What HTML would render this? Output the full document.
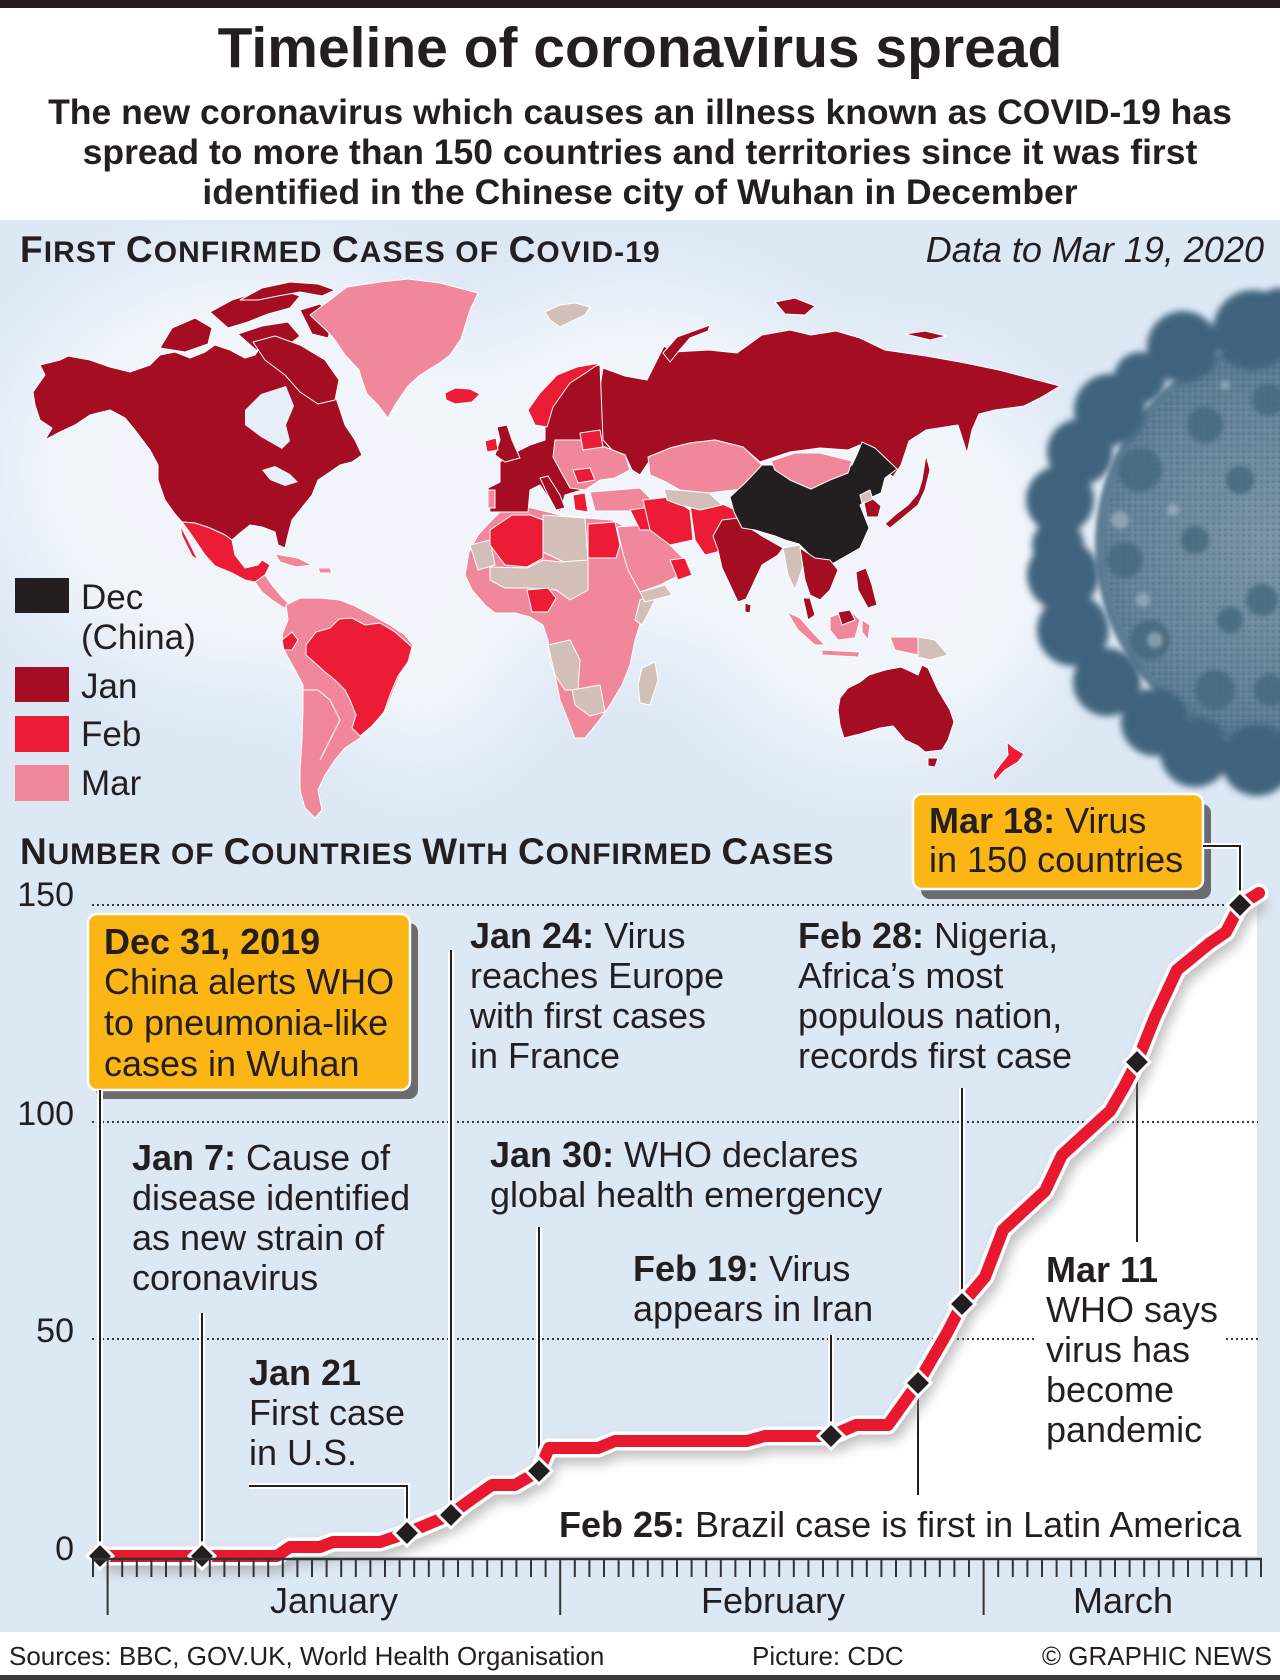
<!DOCTYPE html>
<html><head><meta charset="utf-8"><style>
html,body{margin:0;padding:0;background:#fff}
svg{display:block}
text{font-family:"Liberation Sans",Arial,sans-serif;fill:#231f20}
</style></head><body>
<svg width="1280" height="1680" viewBox="0 0 1280 1680" xmlns="http://www.w3.org/2000/svg">
<defs>
<filter id="blur40" x="-50%" y="-50%" width="200%" height="200%"><feGaussianBlur stdDeviation="40"/></filter>
<filter id="blur3" x="-30%" y="-30%" width="160%" height="160%"><feGaussianBlur stdDeviation="3.5"/></filter>
<filter id="blur2" x="-20%" y="-20%" width="140%" height="140%"><feGaussianBlur stdDeviation="2"/></filter>
<filter id="blur6" x="-20%" y="-20%" width="140%" height="140%"><feGaussianBlur stdDeviation="6"/></filter>
<radialGradient id="vbody" cx="0.42" cy="0.5" r="0.6">
<stop offset="0" stop-color="#7a95a8"/><stop offset="0.55" stop-color="#66849a"/><stop offset="1" stop-color="#4a6b83"/>
</radialGradient>
<pattern id="speck" width="6" height="6" patternUnits="userSpaceOnUse">
<circle cx="1.5" cy="1.5" r="1.1" fill="#2a495e"/><circle cx="4.5" cy="4.2" r="0.9" fill="#9fb4c3"/>
</pattern>
</defs>

<!-- header -->
<rect x="0" y="0" width="1280" height="220" fill="#fff"/>
<rect x="0" y="0" width="1280" height="8" fill="#231f20"/>
<text x="640" y="67" font-size="57" font-weight="bold" text-anchor="middle">Timeline of coronavirus spread</text>
<text x="640" y="124" font-size="35.5" font-weight="bold" text-anchor="middle">The new coronavirus which causes an illness known as COVID-19 has</text>
<text x="640" y="164" font-size="35.5" font-weight="bold" text-anchor="middle">spread to more than 150 countries and territories since it was first</text>
<text x="640" y="204" font-size="35.5" font-weight="bold" text-anchor="middle">identified in the Chinese city of Wuhan in December</text>

<!-- panel background -->
<rect x="0" y="220" width="1280" height="1412" fill="#dde8f5"/>
<g filter="url(#blur40)" opacity="0.6">
<ellipse cx="250" cy="470" rx="250" ry="210" fill="#fff"/>
<ellipse cx="640" cy="470" rx="220" ry="180" fill="#fff"/>
<ellipse cx="880" cy="560" rx="200" ry="200" fill="#fff"/>
<ellipse cx="420" cy="600" rx="120" ry="160" fill="#fff"/>
</g>

<!-- MAP -->
<g stroke="#fff" stroke-width="1" stroke-linejoin="round">
<polygon fill="#a50d22" points="33,392 45,375 40,365 60,360 68,356 90,360 110,367 130,372 150,365 160,355 175,352 190,358 205,352 215,345 230,350 245,358 255,355 262,345 275,350 290,360 305,372 320,380 335,395 340,410 345,425 355,440 362,455 352,462 340,465 330,472 318,480 312,495 300,510 292,520 288,535 285,548 278,545 275,532 262,527 250,525 240,533 232,540 225,535 210,528 195,523 182,522 175,514 165,500 158,480 158,465 150,450 135,430 125,418 110,410 90,415 75,425 60,432 45,440 52,428 40,420 35,405"/>
<polygon fill="#a50d22" points="160,348 172,328 195,318 212,328 208,344 185,352"/>
<polygon fill="#a50d22" points="210,312 232,300 258,292 282,290 300,296 290,308 268,314 248,322 228,328"/>
<polygon fill="#a50d22" points="240,300 262,288 290,282 318,284 335,290 322,296 300,292 278,296 258,300"/>
<polygon fill="#a50d22" points="238,334 262,326 288,322 300,336 282,350 256,350"/>
<polygon fill="#a50d22" points="300,310 320,304 334,318 328,338 312,334"/>
<polygon fill="#a50d22" points="253,342 275,336 300,345 325,360 339,380 335,400 318,404 300,392 285,375 265,360"/>
<polygon fill="#e6eef8" stroke="none" points="245,410 261,394 286,386 294,406 286,425 290,441 282,449 261,437 245,425"/>
<polygon fill="#e6eef8" stroke="none" points="262,470 275,466 290,474 298,482 285,486 270,480"/>
<polygon fill="#f1879a" points="310,315 330,300 347,287 380,282 408,279 440,283 478,293 470,310 461,339 450,355 441,362 420,375 408,386 395,405 388,418 378,405 367,394 362,380 359,370 345,355 335,340 327,331"/>
<polygon fill="#ec1c37" points="445,393 455,388 470,389 480,394 472,402 455,404 446,400"/>
<polygon fill="#ec1c37" points="182,522 195,523 210,528 225,535 232,540 235,555 245,568 258,565 262,560 270,565 265,575 255,582 245,580 232,573 215,566 205,555 195,540 188,530"/>
<polygon fill="#ec1c37" points="180,525 188,540 198,560 192,556 182,536"/>
<polygon fill="#f1879a" points="255,582 265,575 272,585 282,597 290,605 284,608 272,600 262,592"/>
<polygon fill="#f1879a" points="275,554 298,558 312,565 296,567 280,562"/>
<polygon fill="#f1879a" points="318,568 330,568 332,573 320,573"/>
<polygon fill="#f1879a" points="286,605 300,598 320,598 340,600 355,606 372,615 390,625 405,635 413,645 410,660 400,675 392,695 385,712 370,728 360,738 345,748 335,760 325,775 318,790 322,810 315,818 305,808 300,790 300,770 302,740 303,710 303,685 295,670 284,650 282,635 288,620"/>
<polygon fill="#ec1c37" points="306,645 316,632 330,628 339,619 352,618 365,625 380,623 395,632 412,647 408,662 398,676 390,695 384,712 372,726 360,736 352,728 356,715 350,700 345,690 335,680 325,672 314,662 306,655"/>
<polygon fill="#ec1c37" points="282,640 292,632 298,640 292,650 284,650"/>
<polyline fill="none" points="303,690 318,690 330,700 340,720 330,740 320,760" />
<polygon fill="#f1879a" points="469,552 478,535 490,522 502,510 520,505 540,510 560,515 585,518 612,520 622,525 630,550 640,570 650,585 660,592 652,605 642,618 635,640 630,665 622,685 610,705 598,722 585,738 575,738 568,720 560,700 556,680 550,660 548,640 543,625 530,617 515,613 495,613 485,605 472,590 465,575"/>
<polygon fill="#d2c0b8" points="543,515 585,518 588,560 570,565 543,552"/>
<polygon fill="#d2c0b8" points="490,567 527,568 543,560 560,562 588,560 588,590 570,600 556,590 527,588 505,588 490,580"/>
<polygon fill="#d2c0b8" points="470,545 490,540 495,565 478,570"/>
<polygon fill="#d2c0b8" points="548,645 570,640 580,660 578,690 565,690 555,675"/>
<polygon fill="#d2c0b8" points="572,690 600,685 605,712 590,716 575,705"/>
<polygon fill="#d2c0b8" points="640,600 658,593 650,610 642,625 635,620"/>
<polygon fill="#d2c0b8" points="642,668 655,662 658,680 650,705 640,703 638,685"/>
<polygon fill="#ec1c37" points="490,530 512,515 530,515 543,520 543,558 527,567 505,565 490,545"/>
<polygon fill="#ec1c37" points="588,524 615,522 620,545 616,558 588,558"/>
<polygon fill="#ec1c37" points="527,590 548,588 556,598 548,612 532,612"/>
<polygon fill="#a50d22" points="603,368 625,376 647,380 664,346 673,352 709,350 737,353 762,335 790,330 811,335 836,331 860,338 885,350 926,356 960,362 999,370 1060,386 1040,398 1024,406 995,410 979,414 972,430 967,453 958,425 926,430 909,441 901,465 893,477 878,465 870,452 860,445 848,450 820,448 790,452 760,462 743,447 715,440 690,443 670,448 650,460 640,475 632,470 625,455 612,450 603,440 600,420 598,400"/>
<polygon fill="#a50d22" points="663,353 677,337 710,325 708,331 690,338 678,352 670,362"/>
<polygon fill="#a50d22" points="775,302 795,298 815,306 805,315 785,314"/>
<polygon fill="#a50d22" points="905,334 925,331 946,336 930,340"/>
<polygon fill="#d2c0b8" points="545,312 560,305 575,303 590,307 585,315 570,322 560,327 550,320"/>
<polygon fill="#a50d22" points="545,420 560,385 575,370 600,365 603,440 612,450 625,455 630,470 615,478 600,480 590,488 575,492 565,495 560,512 550,500 540,485 530,490 528,512 490,512 488,488 500,482 500,462 510,455 530,445 545,440"/>
<polygon fill="#f1879a" points="555,440 580,440 600,445 625,455 630,470 615,478 600,480 585,490 570,488 560,470 553,457"/>
<polygon fill="#ec1c37" points="580,433 600,430 603,447 583,450"/>
<polygon fill="#ec1c37" points="573,470 590,468 595,480 578,483"/>
<polygon fill="#ec1c37" points="528,410 540,393 557,375 577,367 600,363 587,372 570,383 553,407 547,427 535,425"/>
<polygon fill="#f1879a" points="488,490 495,490 495,508 488,508"/>
<polygon fill="#a50d22" points="497,427 507,425 512,440 520,458 505,462 495,455 500,440"/>
<polygon fill="#ec1c37" points="485,441 496,438 498,450 487,452"/>
<polygon fill="#a50d22" points="540,478 548,476 560,495 565,508 556,510 548,495"/>
<polygon fill="#f1879a" points="590,492 640,488 652,500 640,511 595,511"/>
<polygon fill="#ec1c37" points="573,495 585,493 588,512 575,510"/>
<polygon fill="#f1879a" points="617,527 645,525 665,540 685,560 680,575 660,585 640,592 628,570 622,550"/>
<polygon fill="#d2c0b8" points="640,592 665,585 672,595 645,602"/>
<polygon fill="#ec1c37" points="630,510 650,507 655,530 640,530"/>
<polygon fill="#ec1c37" points="643,500 670,497 690,510 693,540 670,545 650,530"/>
<polygon fill="#ec1c37" points="690,505 720,503 740,512 738,530 725,550 705,555 695,540"/>
<polygon fill="#ec1c37" points="670,560 685,558 692,575 678,580"/>
<polygon fill="#f1879a" points="648,457 670,448 690,443 715,440 743,447 762,465 755,480 742,489 709,493 680,490 664,481 650,475"/>
<polygon fill="#d2c0b8" points="664,489 709,493 722,505 700,510 680,505 667,500"/>
<polygon fill="#a50d22" points="713,536 722,520 738,518 745,525 762,536 783,548 778,555 762,565 755,580 746,599 738,602 730,585 722,568 718,550"/>
<polygon fill="#a50d22" points="745,603 751,605 750,613 745,612"/>
<polygon fill="#231f20" points="730,497 745,483 762,465 775,465 790,480 811,489 830,475 852,465 858,452 862,442 875,448 897,469 885,478 881,493 870,498 860,505 869,528 860,548 832,564 815,560 799,544 785,540 775,536 755,530 742,528 734,512"/>
<polygon fill="#f1879a" points="771,461 795,453 820,453 852,461 848,473 830,480 811,489 790,480 775,470"/>
<polygon fill="#d2c0b8" points="860,495 870,490 873,500 862,503"/>
<polygon fill="#a50d22" points="864,503 873,499 881,506 878,517 867,517"/>
<polygon fill="#a50d22" points="885,524 895,515 908,505 918,493 922,480 926,455 930,470 925,490 918,505 900,520 890,528"/>
<polygon fill="#d2c0b8" points="783,548 800,545 805,560 800,575 795,590 788,575"/>
<polygon fill="#a50d22" points="800,548 815,558 830,560 838,570 830,590 820,600 810,595 805,580"/>
<polygon fill="#a50d22" points="803,598 810,598 815,615 808,620"/>
<polygon fill="#a50d22" points="856,572 866,568 872,585 877,605 868,608 858,590"/>
<polygon fill="#f1879a" points="787,612 800,618 815,635 825,645 815,645 798,630"/>
<polygon fill="#f1879a" points="822,650 860,652 858,657 822,655"/>
<polygon fill="#f1879a" points="830,617 850,610 860,620 855,638 838,640 830,630"/>
<polygon fill="#a50d22" points="838,612 850,610 855,620 842,625"/>
<polygon fill="#f1879a" points="862,620 870,625 868,640 862,632"/>
<polygon fill="#f1879a" points="890,637 918,637 918,655 895,650"/>
<polygon fill="#d2c0b8" points="918,637 935,640 948,655 930,660 918,657"/>
<polygon fill="#a50d22" points="840,698 848,688 860,682 869,675 885,670 901,667 912,672 918,675 922,665 928,668 938,690 950,710 954,722 948,740 942,750 925,752 918,746 905,740 893,726 880,728 860,734 844,738 840,725 838,710"/>
<polygon fill="#a50d22" points="928,758 938,758 935,767 928,766"/>
<polygon fill="#ec1c37" points="1007,742 1014,748 1024,754 1018,762 1005,770 995,781 993,775 1000,765 1008,755"/>
</g>

<!-- Virus -->
<g>
<circle cx="1305" cy="545" r="210" fill="url(#vbody)" filter="url(#blur2)"/>
<circle cx="1305" cy="545" r="200" fill="url(#speck)" opacity="0.3"/>
<g filter="url(#blur3)" fill="#3f647d">
<circle cx="1183" cy="347" r="36"/>
<circle cx="1253" cy="330" r="40"/>
<circle cx="1140" cy="378" r="26"/>
<circle cx="1110" cy="410" r="36"/>
<circle cx="1080" cy="452" r="33"/>
<circle cx="1060" cy="500" r="34"/>
<circle cx="1058" cy="545" r="26"/>
<circle cx="1063" cy="575" r="36"/>
<circle cx="1073" cy="630" r="36"/>
<circle cx="1107" cy="682" r="34"/>
<circle cx="1155" cy="722" r="34"/>
<circle cx="1195" cy="752" r="35"/>
<circle cx="1257" cy="760" r="36"/>
<circle cx="1280" cy="318" r="30"/>
</g>
<g fill="#46697f" opacity="0.85" filter="url(#blur2)">
<circle cx="1140" cy="470" r="22"/><circle cx="1125" cy="560" r="18"/><circle cx="1150" cy="640" r="20"/>
<circle cx="1205" cy="425" r="18"/><circle cx="1215" cy="690" r="20"/><circle cx="1268" cy="400" r="16"/>
<circle cx="1262" cy="600" r="16"/><circle cx="1195" cy="540" r="14"/><circle cx="1270" cy="690" r="16"/>
<circle cx="1240" cy="480" r="14"/><circle cx="1230" cy="620" r="13"/>
</g>
<g fill="#a8bccb" opacity="0.6" filter="url(#blur2)">
<circle cx="1120" cy="520" r="9"/><circle cx="1143" cy="600" r="7"/><circle cx="1173" cy="510" r="6"/>
<circle cx="1155" cy="640" r="8"/><circle cx="1225" cy="385" r="5"/>
</g>
</g>

<!-- Map titles -->
<text x="20" y="262" font-weight="bold" letter-spacing="1.1"><tspan font-size="37">F</tspan><tspan font-size="30">IRST </tspan><tspan font-size="37">C</tspan><tspan font-size="30">ONFIRMED </tspan><tspan font-size="37">C</tspan><tspan font-size="30">ASES OF </tspan><tspan font-size="37">C</tspan><tspan font-size="30">OVID-19</tspan></text>
<text x="1264" y="262" font-size="36" font-style="italic" text-anchor="end">Data to Mar 19, 2020</text>

<!-- Legend -->
<rect x="15" y="578" width="54" height="35" fill="#231f20"/>
<rect x="15" y="667" width="54" height="35" fill="#a50d22"/>
<rect x="15" y="716" width="54" height="36" fill="#ec1c37"/>
<rect x="15" y="765" width="54" height="36" fill="#f1879a"/>
<text x="81" y="609" font-size="35">Dec</text>
<text x="81" y="649" font-size="35">(China)</text>
<text x="81" y="698" font-size="35">Jan</text>
<text x="81" y="746" font-size="35">Feb</text>
<text x="81" y="795" font-size="35">Mar</text>

<!-- Chart title -->
<text x="20" y="864" font-weight="bold" letter-spacing="0.85"><tspan font-size="37">N</tspan><tspan font-size="30">UMBER OF </tspan><tspan font-size="37">C</tspan><tspan font-size="30">OUNTRIES </tspan><tspan font-size="37">W</tspan><tspan font-size="30">ITH </tspan><tspan font-size="37">C</tspan><tspan font-size="30">ONFIRMED </tspan><tspan font-size="37">C</tspan><tspan font-size="30">ASES</tspan></text>

<!-- white area under curve -->
<polygon fill="#fff" points="100,1556 277,1556 290,1547 320,1547 333,1542 380,1542 407,1533 450,1515 472,1499 492,1485 515,1485 539,1471 549,1448 598,1448 615,1441 747,1441 765,1436 831,1436 856,1425 888,1425 918,1383 947,1333 962,1304 985,1277 1003,1230 1045,1191 1062,1155 1110,1111 1124,1087 1137,1062 1155,1017 1177,970 1210,943 1226,932 1240,905 1257,893 1257,1556"/>
<rect x="1034" y="1333" width="192" height="12" fill="#fff"/>

<!-- Y labels -->
<g font-size="34" text-anchor="end">
<text x="74" y="906">150</text>
<text x="74" y="1125">100</text>
<text x="74" y="1342">50</text>
<text x="74" y="1560">0</text>
</g>

<!-- gridlines -->
<g stroke="#3a3a3a" stroke-width="2" stroke-dasharray="2 3">
<line x1="92" y1="905" x2="1226" y2="905"/>
<line x1="92" y1="1122" x2="1258" y2="1122"/>
<line x1="92" y1="1339" x2="1034" y2="1339"/>
<line x1="1226" y1="1339" x2="1258" y2="1339"/>
</g>

<!-- Dec31 box -->
<rect x="96" y="923" width="322" height="176" rx="9" fill="#6b6b6d"/>
<rect x="88" y="914" width="322" height="176" rx="9" fill="#fbb615" stroke="#fff" stroke-width="2.5"/>
<text x="104" y="954" font-size="36" font-weight="bold">Dec 31, 2019</text>
<text x="104" y="994" font-size="36">China alerts WHO</text>
<text x="104" y="1035" font-size="36">to pneumonia-like</text>
<text x="104" y="1076" font-size="36">cases in Wuhan</text>

<!-- Mar 18 box -->
<rect x="921" y="804" width="290" height="95" rx="9" fill="#6b6b6d"/>
<rect x="913" y="794" width="290" height="95" rx="9" fill="#fbb615" stroke="#fff" stroke-width="2.5"/>
<text x="929" y="833" font-size="36"><tspan font-weight="bold">Mar 18:</tspan> Virus</text>
<text x="929" y="872" font-size="36">in 150 countries</text>

<!-- annotations -->
<g font-size="36">
<text x="132" y="1170"><tspan font-weight="bold">Jan 7:</tspan> Cause of</text>
<text x="132" y="1210">disease identified</text>
<text x="132" y="1250">as new strain of</text>
<text x="132" y="1290">coronavirus</text>

<text x="249" y="1385" font-weight="bold">Jan 21</text>
<text x="249" y="1425">First case</text>
<text x="249" y="1465">in U.S.</text>

<text x="470" y="948"><tspan font-weight="bold">Jan 24:</tspan> Virus</text>
<text x="470" y="988">reaches Europe</text>
<text x="470" y="1028">with first cases</text>
<text x="470" y="1068">in France</text>

<text x="798" y="948"><tspan font-weight="bold">Feb 28:</tspan> Nigeria,</text>
<text x="798" y="988">Africa’s most</text>
<text x="798" y="1028">populous nation,</text>
<text x="798" y="1068">records first case</text>

<text x="490" y="1167"><tspan font-weight="bold">Jan 30:</tspan> WHO declares</text>
<text x="490" y="1207">global health emergency</text>

<text x="633" y="1281"><tspan font-weight="bold">Feb 19:</tspan> Virus</text>
<text x="633" y="1321">appears in Iran</text>

<text x="1046" y="1282" font-weight="bold">Mar 11</text>
<text x="1046" y="1322">WHO says</text>
<text x="1046" y="1362">virus has</text>
<text x="1046" y="1402">become</text>
<text x="1046" y="1442">pandemic</text>

<text x="559" y="1537"><tspan font-weight="bold">Feb 25:</tspan> Brazil case is first in Latin America</text>
</g>

<!-- leader lines -->
<g fill="none" stroke="#fff" stroke-width="6">
<path d="M100,1556V1090M202,1556V1313M407,1533V1486H249M451,1515V950M539,1471V1227M831,1436V1335M918,1383V1495M962,1304V1088M1137,1062V1242M1240,905V846H1203"/>
</g>
<g fill="none" stroke="#231f20" stroke-width="2">
<path d="M100,1556V1090M202,1556V1313M407,1533V1486H249M451,1515V950M539,1471V1227M831,1436V1335M918,1383V1495M962,1304V1088M1137,1062V1242M1240,905V846H1203"/>
</g>

<!-- curve -->
<polyline fill="none" stroke="#8a8a8a" stroke-width="18" stroke-linejoin="round" opacity="0.55" filter="url(#blur6)" transform="translate(4,7)" points="100,1556 277,1556 290,1547 320,1547 333,1542 380,1542 407,1533 450,1515 472,1499 492,1485 515,1485 539,1471 549,1448 598,1448 615,1441 747,1441 765,1436 831,1436 856,1425 888,1425 918,1383 947,1333 962,1304 985,1277 1003,1230 1045,1191 1062,1155 1110,1111 1124,1087 1137,1062 1155,1017 1177,970 1210,943 1226,932 1240,905 1259,893"/>
<polyline fill="none" stroke="#fff" stroke-width="19" stroke-linejoin="round" stroke-linecap="round" points="100,1556 277,1556 290,1547 320,1547 333,1542 380,1542 407,1533 450,1515 472,1499 492,1485 515,1485 539,1471 549,1448 598,1448 615,1441 747,1441 765,1436 831,1436 856,1425 888,1425 918,1383 947,1333 962,1304 985,1277 1003,1230 1045,1191 1062,1155 1110,1111 1124,1087 1137,1062 1155,1017 1177,970 1210,943 1226,932 1240,905 1259,893"/>
<polyline fill="none" stroke="#e8182f" stroke-width="12" stroke-linejoin="round" stroke-linecap="round" points="100,1556 277,1556 290,1547 320,1547 333,1542 380,1542 407,1533 450,1515 472,1499 492,1485 515,1485 539,1471 549,1448 598,1448 615,1441 747,1441 765,1436 831,1436 856,1425 888,1425 918,1383 947,1333 962,1304 985,1277 1003,1230 1045,1191 1062,1155 1110,1111 1124,1087 1137,1062 1155,1017 1177,970 1210,943 1226,932 1240,905 1259,893"/>

<!-- diamonds -->
<g fill="#231f20" stroke="#fff" stroke-width="3">
<polygon points="100,1543 113,1556 100,1569 87,1556"/>
<polygon points="202,1543 215,1556 202,1569 189,1556"/>
<polygon points="407,1520 420,1533 407,1546 394,1533"/>
<polygon points="451,1502 464,1515 451,1528 438,1515"/>
<polygon points="539,1458 552,1471 539,1484 526,1471"/>
<polygon points="831,1423 844,1436 831,1449 818,1436"/>
<polygon points="918,1370 931,1383 918,1396 905,1383"/>
<polygon points="962,1291 975,1304 962,1317 949,1304"/>
<polygon points="1137,1049 1150,1062 1137,1075 1124,1062"/>
<polygon points="1240,892 1253,905 1240,918 1227,905"/>
</g>

<!-- x axis -->
<line x1="93" y1="1559" x2="1262" y2="1559" stroke="#333" stroke-width="2.5"/>
<path fill="none" stroke="#333" stroke-width="2" d="M93,1559V1577M122.2,1559V1577M136.8,1559V1577M151.4,1559V1577M166,1559V1577M180.6,1559V1577M195.2,1559V1577M209.8,1559V1577M224.4,1559V1577M239,1559V1577M253.6,1559V1577M268.2,1559V1577M282.8,1559V1577M297.4,1559V1577M312,1559V1577M326.6,1559V1577M341.2,1559V1577M355.8,1559V1577M370.4,1559V1577M385,1559V1577M399.6,1559V1577M414.2,1559V1577M428.8,1559V1577M443.4,1559V1577M458,1559V1577M472.6,1559V1577M487.2,1559V1577M501.8,1559V1577M516.4,1559V1577M531,1559V1577M545.6,1559V1577M574.8,1559V1577M589.4,1559V1577M604,1559V1577M618.6,1559V1577M633.2,1559V1577M647.8,1559V1577M662.4,1559V1577M677,1559V1577M691.6,1559V1577M706.2,1559V1577M720.8,1559V1577M735.4,1559V1577M750,1559V1577M764.6,1559V1577M779.2,1559V1577M793.8,1559V1577M808.4,1559V1577M823,1559V1577M837.6,1559V1577M852.2,1559V1577M866.8,1559V1577M881.4,1559V1577M896,1559V1577M910.6,1559V1577M925.2,1559V1577M939.8,1559V1577M954.4,1559V1577M969,1559V1577M998.2,1559V1577M1012.8,1559V1577M1027.4,1559V1577M1042,1559V1577M1056.6,1559V1577M1071.2,1559V1577M1085.8,1559V1577M1100.4,1559V1577M1115,1559V1577M1129.6,1559V1577M1144.2,1559V1577M1158.8,1559V1577M1173.4,1559V1577M1188,1559V1577M1202.6,1559V1577M1217.2,1559V1577M1231.8,1559V1577M1246.4,1559V1577M1261,1559V1577"/>
<path fill="none" stroke="#333" stroke-width="2" d="M107.6,1559V1615M560.2,1559V1615M983.6,1559V1615"/>
<g font-size="36" text-anchor="middle">
<text x="334" y="1613">January</text>
<text x="773" y="1613">February</text>
<text x="1123" y="1613">March</text>
</g>

<!-- footer -->
<rect x="0" y="1632" width="1280" height="48" fill="#fff"/>
<rect x="0" y="1675" width="1280" height="5" fill="#3a3a3a"/>
<g font-size="26">
<text x="9" y="1665">Sources: BBC, GOV.UK, World Health Organisation</text>
<text x="752" y="1665">Picture: CDC</text>
<text x="1272" y="1665" text-anchor="end">© GRAPHIC NEWS</text>
</g>
</svg>
</body></html>
